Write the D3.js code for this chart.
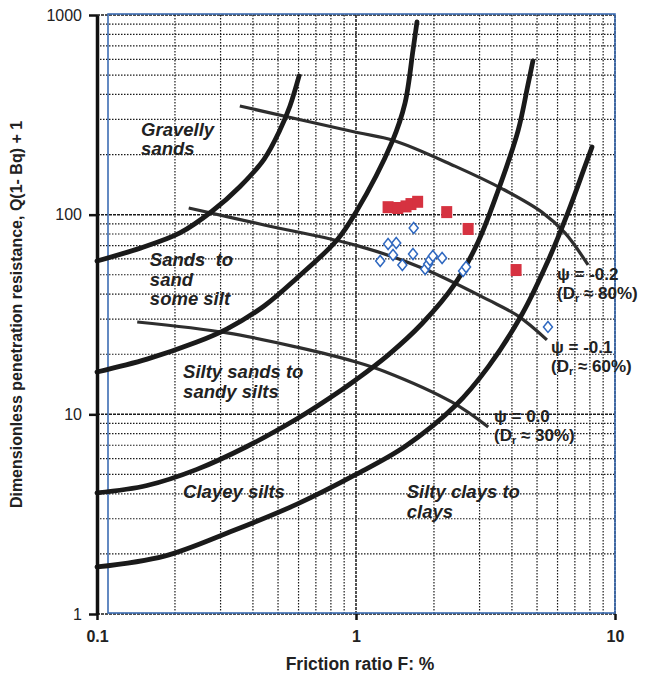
<!DOCTYPE html>
<html>
<head>
<meta charset="utf-8">
<script src="https://cdn.jsdelivr.net/npm/d3@7"></script>
<style>
  body { margin: 0; background: #fff; }
  svg { display: block; font-family: "Liberation Sans", Arial, sans-serif; }
</style>
</head>
<body>
<script>
// boundary curves, points as [F %, Q(1-Bq)+1]
var boundaryA = [[0.1, 58.6], [0.147, 68], [0.209, 81], [0.278, 104], [0.356, 138], [0.442, 190], [0.509, 266], [0.556, 350], [0.603, 495]];
var boundaryB = [[0.1, 16.3], [0.156, 18.9], [0.243, 23], [0.318, 26.8], [0.442, 34.9], [0.592, 48.2], [0.845, 74.7], [1.0, 103], [1.377, 231], [1.546, 362], [1.66, 668], [1.72, 923]];
var boundaryC = [[0.1, 4.04], [0.156, 4.4], [0.243, 5.3], [0.379, 6.9], [0.592, 9.5], [0.794, 12.1], [1.0, 14.9], [1.33, 19.8], [1.8, 28.5], [2.41, 45], [2.96, 73], [3.53, 131], [4.22, 262], [4.61, 446], [4.82, 589]];
var boundaryD = [[0.1, 1.72], [0.182, 1.95], [0.327, 2.58], [0.592, 3.55], [1.0, 5.0], [1.546, 6.9], [2.41, 11], [3.24, 17.3], [4.38, 31.8], [5.51, 58.6], [6.59, 103], [7.66, 175], [8.15, 218]];

// state parameter lines
var psiMinus02 = [[0.356, 350], [1.01, 258], [1.39, 236], [2.41, 175], [3.7, 134], [5.22, 103], [6.41, 81], [7.87, 56]];
var psiMinus01 = [[0.226, 108], [0.442, 88.8], [1.01, 70], [1.8, 54.1], [3.24, 37.4], [4.22, 31.1], [5.46, 23.6]];
var psiZero = [[0.143, 29], [0.318, 25.6], [0.592, 21.7], [1.0, 18.3], [1.29, 16.4], [2.35, 11.5], [3.24, 8.64]];

// test data
var redF = [1.33, 1.45, 1.56, 1.63, 1.73, 2.24, 2.71, 4.15];
var redQ = [109, 108, 110, 113, 116, 103, 84.8, 52.8];
var blueF = [1.24, 1.33, 1.39, 1.43, 1.51, 1.67, 1.66, 1.85, 1.9, 1.93, 1.98, 2.15, 2.59, 2.66, 5.51];
var blueQ = [58.6, 71.3, 62.8, 72.1, 56, 85.7, 63.5, 53.4, 56.6, 59.3, 62.1, 60.7, 52.2, 54.7, 27.4];

var xTickValues = [0.1, 1, 10];
var yTickValues = [1, 10, 100, 1000];

var zoneLabels = [
  {lines: ["Gravelly", "sands"], f: 0.148, q: 248},
  {lines: ["Sands  to", "sand", "some silt"], f: 0.16, q: 55.3},
  {lines: ["Silty sands to", "sandy silts"], f: 0.215, q: 15.2},
  {lines: ["Clayey silts"], f: 0.215, q: 3.81},
  {lines: ["Silty clays to", "clays"], f: 1.57, q: 3.81}
];
var psiLabels = [
  {psi: "-0.2", dr: "80%", f: 5.97, q: 47},
  {psi: "-0.1", dr: "60%", f: 5.66, q: 20.2},
  {psi: "0.0", dr: "30%", f: 3.41, q: 9.2}
];

var W = 665, H = 674;
var margin = {top: 15, right: 50, bottom: 60, left: 97};

var svg = d3.select("body").append("svg").attr("width", W).attr("height", H);

var x = d3.scaleLog().domain([0.1, 10]).range([margin.left, W - margin.right]);
var y = d3.scaleLog().domain([1, 1000]).range([H - margin.bottom, margin.top]);

function isDecade(v) {
  var l = Math.log10(v);
  return Math.abs(l - Math.round(l)) < 1e-9;
}

// dotted grid
var grid = svg.append("g").attr("id", "grid");
grid.selectAll("line.gx").data(x.ticks()).enter().append("line")
  .attr("class", "gx")
  .attr("x1", function(d) { return x(d); })
  .attr("x2", function(d) { return x(d); })
  .attr("y1", y(1000))
  .attr("y2", y(1))
  .style("stroke", "#1a1a1a")
  .style("stroke-width", function(d) { return isDecade(d) ? 1.5 : 1.2; })
  .style("stroke-dasharray", function(d) { return isDecade(d) ? "3,1" : "1.5,1.5"; });
grid.selectAll("line.gy").data(y.ticks()).enter().append("line")
  .attr("class", "gy")
  .attr("x1", x(0.1))
  .attr("x2", x(10))
  .attr("y1", function(d) { return y(d); })
  .attr("y2", function(d) { return y(d); })
  .style("stroke", "#1a1a1a")
  .style("stroke-width", function(d) { return isDecade(d) ? 1.5 : 1.2; })
  .style("stroke-dasharray", function(d) { return isDecade(d) ? "3,1" : "1.5,1.5"; });

// blue frame of the scan
svg.append("rect")
  .attr("x", x(0.1) + 11)
  .attr("y", y(1000) - 1)
  .attr("width", x(10) - x(0.1) - 11)
  .attr("height", y(1) - y(1000))
  .style("fill", "none")
  .style("stroke", "#3d6db3")
  .style("stroke-width", 1.6);

var line = d3.line()
  .x(function(d) { return x(d[0]); })
  .y(function(d) { return y(d[1]); })
  .curve(d3.curveCatmullRom.alpha(0.5));

svg.append("g").attr("id", "psi").selectAll("path")
  .data([psiMinus02, psiMinus01, psiZero]).enter().append("path")
  .attr("d", line)
  .style("fill", "none")
  .style("stroke", "#2e2e2e")
  .style("stroke-width", 3.2);

svg.append("g").attr("id", "boundaries").selectAll("path")
  .data([boundaryA, boundaryB, boundaryC, boundaryD]).enter().append("path")
  .attr("d", line)
  .style("fill", "none")
  .style("stroke", "#1a1a1a")
  .style("stroke-width", 4.8)
  .style("stroke-linecap", "round");

// red squares
svg.append("g").selectAll("rect").data(redF).enter().append("rect")
  .attr("x", function(d) { return x(d) - 5.5; })
  .attr("y", function(d, i) { return y(redQ[i]) - 6; })
  .attr("width", 11)
  .attr("height", 12)
  .style("fill", "#d63240");

// blue diamonds
svg.append("g").selectAll("path").data(blueF).enter().append("path")
  .attr("transform", function(d, i) { return "translate(" + x(d) + "," + y(blueQ[i]) + ")"; })
  .attr("d", "M0,-5.5L4.5,0L0,5.5L-4.5,0Z")
  .style("fill", "#fff")
  .style("stroke", "#2f68c0")
  .style("stroke-width", 1.5);

// zone names
var zl = svg.append("g").selectAll("text").data(zoneLabels).enter().append("text")
  .attr("x", function(d) { return x(d.f); })
  .attr("y", function(d) { return y(d.q); })
  .style("font-size", "18.5px")
  .style("font-weight", "bold")
  .style("font-style", "italic")
  .style("fill", "#222")
  .style("white-space", "pre");
zl.selectAll("tspan").data(function(d) { return d.lines; }).enter().append("tspan")
  .attr("x", function() { return x(d3.select(this.parentNode).datum().f); })
  .attr("dy", function(d, i) { return i === 0 ? 0 : 19.5; })
  .text(function(d) { return d; });

// psi labels, two separate lines so they do not collide
var pl = svg.append("g").selectAll("g").data(psiLabels).enter().append("g")
  .attr("transform", function(d) { return "translate(" + x(d.f) + "," + y(d.q) + ")"; })
  .style("font-size", "17px")
  .style("font-weight", "bold")
  .style("fill", "#222");
pl.append("text").text(function(d) { return "\u03c8 = " + d.psi; });
var second = pl.append("text").attr("y", 19);
second.append("tspan").text("(D");
second.append("tspan").attr("dy", 3).style("font-size", "11px").text("r");
second.append("tspan").attr("dy", -3).text(function(d) { return " \u2248 " + d.dr + ")"; });

// axes
var yAxis = svg.append("g")
  .attr("transform", "translate(" + x(0.1) + ",0)")
  .call(d3.axisLeft(y).tickValues(yTickValues).tickFormat(d3.format("d")).tickSize(8).tickSizeOuter(0).tickPadding(7));
yAxis.select(".domain").style("stroke", "#111").style("stroke-width", 3.5);
yAxis.selectAll(".tick line").style("stroke", "#111").style("stroke-width", 2.5);
yAxis.selectAll(".tick text").style("font-size", "16px").style("font-family", "Liberation Sans, Arial, sans-serif").style("fill", "#222");

var xAxis = svg.append("g")
  .attr("transform", "translate(0," + y(1) + ")")
  .call(d3.axisBottom(x).tickValues(xTickValues).tickFormat(function(d) { return d < 1 ? "0.1" : d3.format("d")(d); }).tickSize(6).tickSizeOuter(0).tickPadding(11));
xAxis.select(".domain").remove();
xAxis.selectAll(".tick line").style("stroke", "#111").style("stroke-width", 2.5);
xAxis.selectAll(".tick text").style("font-size", "16px").style("font-family", "Liberation Sans, Arial, sans-serif").style("font-weight", "bold").style("fill", "#222");

svg.append("text")
  .attr("x", (x(0.1) + x(10)) / 2 + 4)
  .attr("y", H - 4)
  .attr("text-anchor", "middle")
  .style("font-size", "17.5px")
  .style("font-weight", "bold")
  .style("fill", "#222")
  .text("Friction ratio F: %");

svg.append("text")
  .attr("transform", "translate(22," + ((y(1) + y(1000)) / 2) + ") rotate(-90)")
  .attr("text-anchor", "middle")
  .style("font-size", "16px")
  .style("font-weight", "bold")
  .style("fill", "#222")
  .text("Dimensionless penetration resistance, Q(1- Bq) + 1");
</script>
</body>
</html>
